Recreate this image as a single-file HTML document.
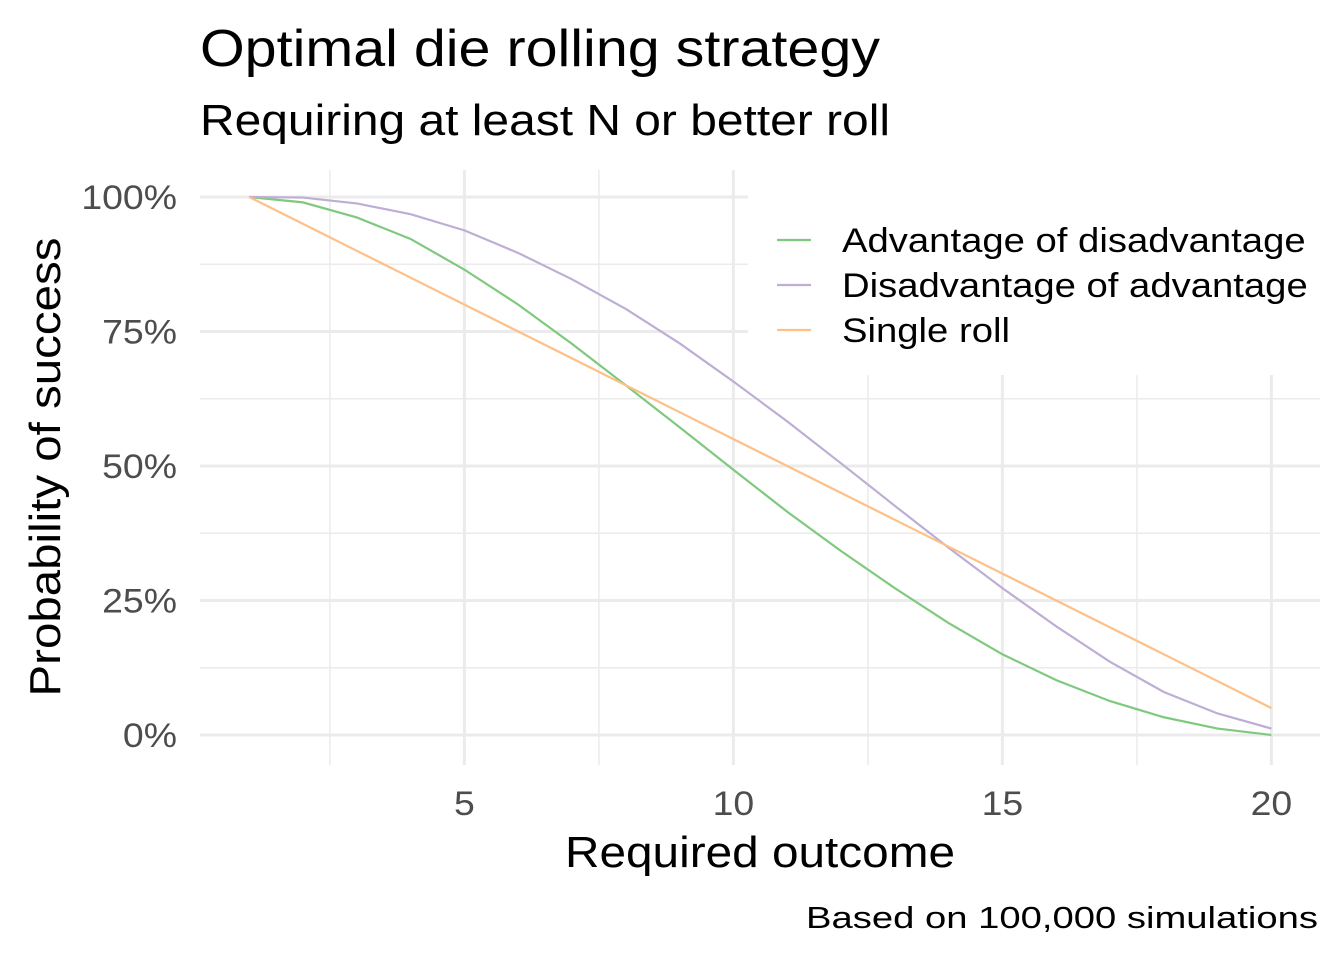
<!DOCTYPE html>
<html><head><meta charset="utf-8"><style>
body{margin:0;background:#fff;}
svg{display:block;font-family:"Liberation Sans",Arial,sans-serif;}
</style></head><body>
<svg id="chart" width="1344" height="960">
<rect width="1344" height="960" fill="#fff"/>
<text x="200" y="66" font-size="52" textLength="680" lengthAdjust="spacingAndGlyphs" fill="#000">Optimal die rolling strategy</text>
<text x="200" y="135" font-size="44" textLength="690" lengthAdjust="spacingAndGlyphs" fill="#000">Requiring at least N or better roll</text>
<g id="grid"></g>
<rect x="748" y="170" width="572" height="205" fill="#fff"/>
<g id="series"></g>
<g id="ticks"></g>
<text x="760" y="867" font-size="44" textLength="390" lengthAdjust="spacingAndGlyphs" text-anchor="middle" fill="#000">Required outcome</text>
<text transform="translate(60,467) rotate(-90)" font-size="44" textLength="459" lengthAdjust="spacingAndGlyphs" text-anchor="middle" fill="#000">Probability of success</text>
<text x="1318" y="928" font-size="31" textLength="512" lengthAdjust="spacingAndGlyphs" text-anchor="end" fill="#000">Based on 100,000 simulations</text>
<g id="legend"></g>
</svg>
<script>
const outcomes=[1,2,3,4,5,6,7,8,9,10,11,12,13,14,15,16,17,18,19,20];
const advOfDis=[100,99,96.2,92.2,86.5,80,72.7,65,57.2,49.3,41.5,34.2,27.3,20.8,15,10.2,6.3,3.3,1.2,0];
const disOfAdv=[100,99.9,98.8,96.8,93.8,89.6,84.7,79.2,72.8,65.7,58.3,50.5,42.6,34.8,27.3,20.2,13.6,8,4,1.2];
const single=[100,95,90,85,80,75,70,65,60,55,50,45,40,35,30,25,20,15,10,5];
const xTicks=[5,10,15,20];
const yTicks=[0,25,50,75,100];
const yTickLabels=["0%","25%","50%","75%","100%"];
const seriesNames=["Advantage of disadvantage","Disadvantage of advantage","Single roll"];
const colors=["#7fc97f","#beaed4","#fdc086"];

const NS="http://www.w3.org/2000/svg";
const X=v=>249.2+(v-1)*(733-464)/5;
const Y=v=>735-v*5.38;
function mk(t,a,p){const e=document.createElementNS(NS,t);for(const k in a)e.setAttribute(k,a[k]);p.appendChild(e);return e;}
function widen(t,k){const w=t.getComputedTextLength();t.setAttribute('textLength',w*k);t.setAttribute('lengthAdjust','spacingAndGlyphs');}
const grid=document.getElementById('grid');
const L=200,R=1320,T=170,B=765;
for(let i=0;i<xTicks.length;i++){
  const v=xTicks[i]-2.5;
  const l=mk('line',{x1:X(v),x2:X(v),y1:T,y2:B,stroke:'#ebebeb','stroke-width':1.5},grid);
  
  
}
for(let i=0;i<yTicks.length-1;i++){
  const v=yTicks[i]+12.5;
  const l=mk('line',{x1:L,x2:R,y1:Y(v),y2:Y(v),stroke:'#ebebeb','stroke-width':1.5},grid);
  
  
}
for(const v of xTicks){
  const l=mk('line',{x1:X(v),x2:X(v),y1:T,y2:B,stroke:'#ebebeb','stroke-width':3},grid);
  
  
}
for(const v of yTicks){
  const l=mk('line',{x1:L,x2:R,y1:Y(v),y2:Y(v),stroke:'#ebebeb','stroke-width':3},grid);
  
  
}
const ticks=document.getElementById('ticks');
xTicks.forEach(v=>{
  const t=mk('text',{x:X(v),y:815,'font-size':34,'text-anchor':'middle',fill:'#4d4d4d'},ticks);
  t.textContent=v;
  
  
  widen(t,1.1);
});
yTicks.forEach((v,i)=>{
  const t=mk('text',{x:177,y:Y(v)+12,'font-size':34,'text-anchor':'end',fill:'#4d4d4d'},ticks);
  t.textContent=yTickLabels[i];
  
  
  widen(t,1.1);
});
const sg=document.getElementById('series');
[advOfDis,disOfAdv,single].forEach((d,i)=>{
  const p=mk('polyline',{points:d.map((v,j)=>X(outcomes[j])+','+Y(v)).join(' '),fill:'none',stroke:colors[i],'stroke-width':2.2},sg);
  
  
});
const lg=document.getElementById('legend');
seriesNames.forEach((n,i)=>{
  const y=240+i*45;
  const l=mk('line',{x1:777,x2:811,y1:y,y2:y,stroke:colors[i],'stroke-width':2.2},lg);
  
  
  const t=mk('text',{x:842,y:y+12,'font-size':34,fill:'#000'},lg);
  t.textContent=n;
  
  
  widen(t,1.125);
});
</script>
</body></html>
